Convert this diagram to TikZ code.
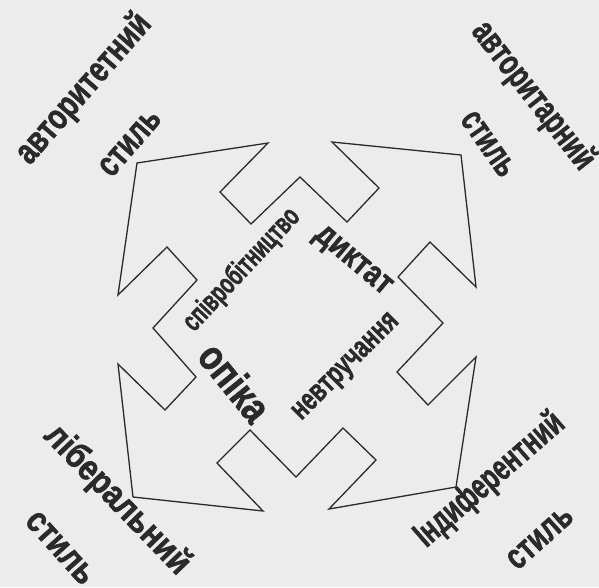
\documentclass[tikz,border=0pt]{standalone}
\usepackage{fontspec}
\setmainfont{Liberation Sans}[BoldFeatures={FakeBold=1.6}]
\definecolor{bg}{HTML}{ECECEC}
\definecolor{ink}{HTML}{2A2A2A}
\newcommand{\sq}[3]{\fontsize{#1}{#1}\selectfont\bfseries\scalebox{#2}[1]{#3}}
\tikzset{
  lab/.style={text=ink, inner sep=0pt},
  outline/.style={draw=ink, line width=1.3pt, line join=miter}
}
\begin{document}
\begin{tikzpicture}[x=1pt,y=-1pt]
\fill[bg] (0,0) rectangle (599,587);
\useasboundingbox (0,0) rectangle (599,587);
% star outline
\draw[outline]
  (137,163) coordinate (tl) -- (268,143) -- (220,192) -- (251,224) -- (300,177) -- (347,222) -- (379,188)
  -- (332,142) -- (461,155) coordinate (tr) -- (476,287) -- (430,242) -- (398,277) -- (443,323) -- (397,372)
  -- (428,405) -- (476,357) -- (456,487) coordinate (br) -- (329,509) -- (376,460) -- (343,428) -- (296,477)
  -- (250,430) -- (217,463) -- (263,511) -- (133,497) coordinate (bl) -- (118,364) -- (165,410) -- (196,377)
  -- (153,328) -- (197,280) -- (167,247) -- (118,295) -- cycle;
% outer labels
\node[lab, rotate=49] (a1) at (84,89) {\sq{36}{0.76}{авторитетний}};
\node[lab, rotate=49] (a2) at (130,143) {\sq{36}{0.74}{стиль}};
\node[lab, rotate=-52] (b1) at (533,96) {\sq{36}{0.71}{авторитарний}};
\node[lab, rotate=-55] (b2) at (488,144) {\sq{36}{0.69}{стиль}};
\node[lab, rotate=-46] (c1) at (117,500) {\sq{36}{0.85}{ліберальний}};
\node[lab, rotate=-48] (c2) at (60,548) {\sq{36}{0.83}{стиль}};
\node[lab, rotate=41] (d1) at (490,480) {\sq{36}{0.675}{Індиферентний}};
\node[lab, rotate=42] (d2) at (540,538) {\sq{36}{0.74}{стиль}};
% inner labels
\node[lab, rotate=47] (e1) at (242,270) {\sq{29}{0.66}{співробітництво}};
\node[lab, rotate=-40] (e2) at (352,262) {\sq{34}{0.82}{диктат}};
\node[lab, rotate=-51] (e3) at (235,382) {\sq{42}{0.82}{опіка}};
\node[lab, rotate=45] (e4) at (347,368) {\sq{31}{0.71}{невтручання}};
\end{tikzpicture}
\end{document}
